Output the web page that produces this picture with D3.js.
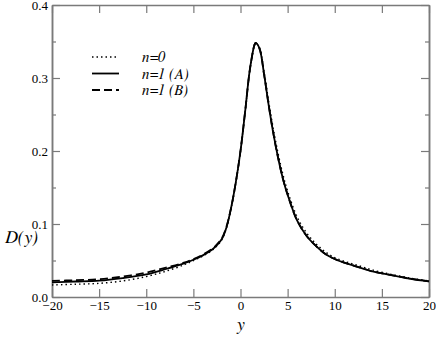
<!DOCTYPE html>
<html>
<head>
<meta charset="utf-8">
<script src="https://cdn.jsdelivr.net/npm/d3@7"></script>
<style>
  body { margin: 0; background: #fff; }
</style>
</head>
<body>
<div id="chart"></div>
<script>
var WIDTH = 436;
var HEIGHT = 337;

// values
var yGrid = [-20, -17.5, -15, -12.5, -10, -8, -6, -5, -4, -3, -2.5, -2, -1.5, -1, -0.5, 0, 0.5, 1, 1.5, 1.6, 2, 2.5, 3, 3.5, 4, 4.5, 5, 6, 7, 8, 9, 10, 11, 12, 13, 14, 16, 18, 20];
var n0 =  [0.0165, 0.0175, 0.0187, 0.022, 0.028, 0.035, 0.044, 0.050, 0.056, 0.064, 0.070, 0.078, 0.094, 0.121, 0.156, 0.200, 0.255, 0.312, 0.346, 0.348, 0.342, 0.309, 0.267, 0.229, 0.196, 0.168, 0.145, 0.110, 0.088, 0.073, 0.062, 0.054, 0.049, 0.045, 0.041, 0.037, 0.031, 0.026, 0.022];
var n1A = [0.020, 0.0212, 0.0225, 0.026, 0.031, 0.038, 0.046, 0.051, 0.057, 0.065, 0.071, 0.079, 0.095, 0.122, 0.157, 0.200, 0.255, 0.312, 0.346, 0.348, 0.341, 0.305, 0.262, 0.223, 0.190, 0.162, 0.140, 0.105, 0.084, 0.070, 0.059, 0.052, 0.047, 0.043, 0.039, 0.035, 0.030, 0.025, 0.0215];
var n1B = [0.022, 0.023, 0.0243, 0.028, 0.0335, 0.040, 0.047, 0.052, 0.058, 0.066, 0.072, 0.080, 0.096, 0.122, 0.157, 0.200, 0.255, 0.312, 0.346, 0.348, 0.341, 0.305, 0.262, 0.223, 0.190, 0.162, 0.140, 0.105, 0.084, 0.070, 0.059, 0.052, 0.047, 0.043, 0.039, 0.035, 0.030, 0.025, 0.0215];

var xTicks = [-20, -15, -10, -5, 0, 5, 10, 15, 20];
var yTicks = [0.0, 0.1, 0.2, 0.3, 0.4];
var yMinor = [0.05, 0.15, 0.25, 0.35];

var series = [
  {name: 'n=0', values: n0, dash: '1.5,3', width: 1.4},
  {name: 'n=1 (A)', values: n1A, dash: null, width: 1.8},
  {name: 'n=1 (B)', values: n1B, dash: '8,4', width: 1.8}
];

var svg = d3.select('#chart').append('svg')
  .attr('width', WIDTH)
  .attr('height', HEIGHT);

var x = d3.scaleLinear().domain([-20, 20]).range([52, 429]);
var y = d3.scaleLinear().domain([0, 0.4]).range([297, 5]);

var AXIS = '#7a7a7a';
var SERIF = "'Liberation Serif'";
var ITALIC = "'FreeSerif'";

function styleAxis(g) {
  g.attr('font-family', SERIF).attr('font-size', 13);
  g.select('.domain').attr('stroke', AXIS).attr('stroke-width', 1.5);
  g.selectAll('.tick line').attr('stroke', AXIS).attr('stroke-width', 1.2);
  g.selectAll('.tick text').attr('fill', '#000')
    .style('font-family', SERIF).style('font-size', '13px');
}

// bottom
svg.append('g').attr('transform', 'translate(0,' + y(0) + ')')
  .call(d3.axisBottom(x).tickValues(xTicks).tickSizeInner(-8).tickSizeOuter(0).tickPadding(4))
  .call(styleAxis);
// top
svg.append('g').attr('transform', 'translate(0,' + y(0.4) + ')')
  .call(d3.axisTop(x).tickValues(xTicks).tickSizeInner(-8).tickSizeOuter(0).tickFormat(''))
  .call(styleAxis);
// left
svg.append('g').attr('transform', 'translate(' + x(-20) + ',0)')
  .call(d3.axisLeft(y).tickValues(yTicks).tickSizeInner(-8).tickSizeOuter(0).tickPadding(4)
    .tickFormat(d3.format('.1f')))
  .call(styleAxis);
svg.append('g').attr('transform', 'translate(' + x(-20) + ',0)')
  .call(d3.axisLeft(y).tickValues(yMinor).tickSizeInner(-4).tickSizeOuter(0).tickFormat(''))
  .call(styleAxis);
// right
svg.append('g').attr('transform', 'translate(' + x(20) + ',0)')
  .call(d3.axisRight(y).tickValues(yTicks).tickSizeInner(-8).tickSizeOuter(0).tickFormat(''))
  .call(styleAxis);
svg.append('g').attr('transform', 'translate(' + x(20) + ',0)')
  .call(d3.axisRight(y).tickValues(yMinor).tickSizeInner(-4).tickSizeOuter(0).tickFormat(''))
  .call(styleAxis);

var line = d3.line()
  .x(function(d) { return x(d[0]); })
  .y(function(d) { return y(d[1]); })
  .curve(d3.curveCatmullRom.alpha(0.5));

series.forEach(function(s) {
  var pts = yGrid.map(function(v, i) { return [v, s.values[i]]; });
  svg.append('path')
    .datum(pts)
    .attr('d', line)
    .attr('fill', 'none')
    .attr('stroke', '#000')
    .attr('stroke-width', s.width)
    .attr('stroke-dasharray', s.dash);
});

// legend
series.forEach(function(s, i) {
  var ly = 57 + i * 16.5;
  svg.append('line')
    .attr('x1', 92).attr('x2', 119)
    .attr('y1', ly).attr('y2', ly)
    .attr('stroke', '#000')
    .attr('stroke-width', s.width)
    .attr('stroke-dasharray', s.dash);
  svg.append('text')
    .attr('x', 142).attr('y', ly + 5)
    .style('font-family', ITALIC)
    .style('font-size', '15px').style('font-style', 'italic')
    .text(s.name);
});

// axis titles
svg.append('text')
  .attr('x', 5).attr('y', 243)
  .style('font-family', ITALIC)
  .style('font-size', '18px').style('font-style', 'italic')
  .text('D(y)');
svg.append('text')
  .attr('x', x(0)).attr('y', 330)
  .attr('text-anchor', 'middle')
  .style('font-family', ITALIC)
  .style('font-size', '18px').style('font-style', 'italic')
  .text('y');
</script>
</body>
</html>
